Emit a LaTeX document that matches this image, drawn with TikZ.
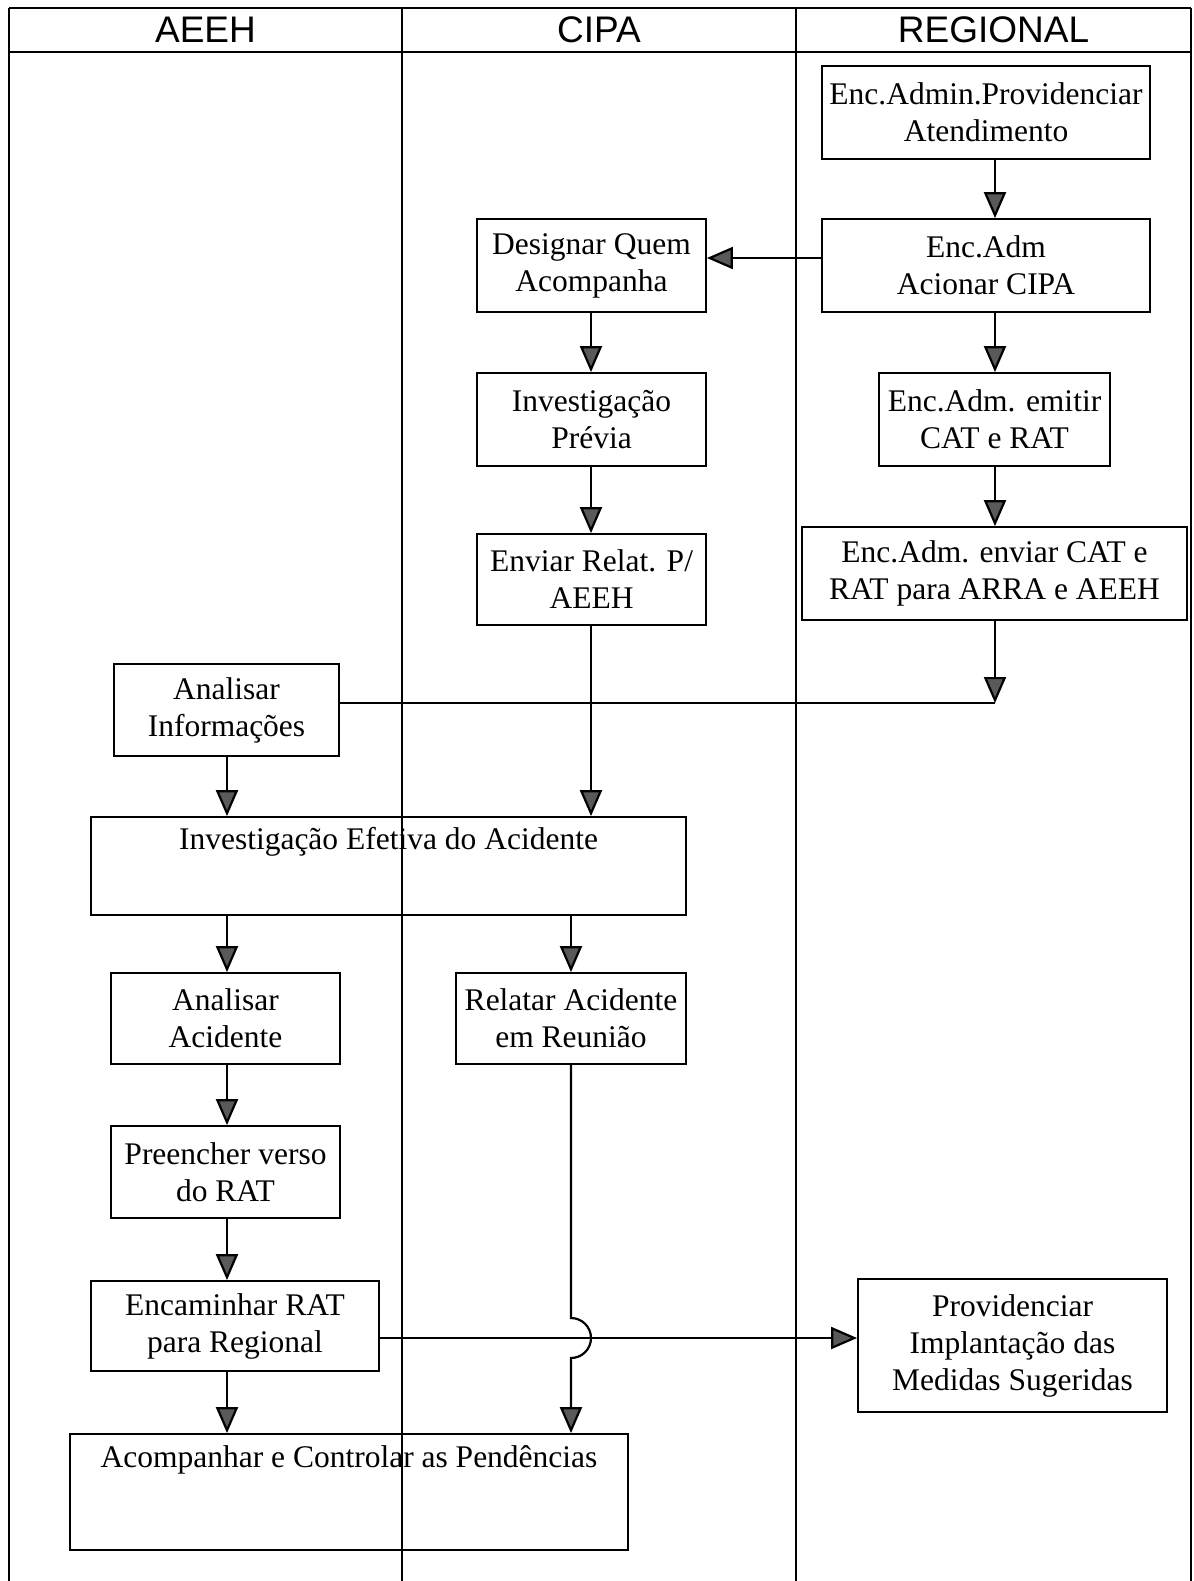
\documentclass[tikz,border=0pt]{standalone}
\usepackage{fontspec}
\setmainfont{Liberation Serif}
\newfontfamily\headfont{Liberation Sans}
\usetikzlibrary{arrows.meta}

\begin{document}
\begin{tikzpicture}[x=0.5pt,y=-0.5pt,
  box/.style={draw, line width=0.9pt, align=center, inner sep=0pt,
    font=\fontsize{15.75}{18.5}\selectfont},
  txt/.style={align=center, inner sep=0pt, font=\fontsize{15.75}{18.5}\selectfont},
  lane/.style={line width=0.8pt},
  flow/.style={line width=1.1pt, -{Triangle[length=13pt,width=11pt,fill=black!65]}},
  plain/.style={line width=1.1pt},
  head/.style={font=\headfont\fontsize{18.5}{20}\selectfont}]

\useasboundingbox (0,0) rectangle (1194,1581);

% swimlane frame
\draw[lane] (9,8) -- (1191,8);
\draw[lane] (9,52) -- (1191,52);
\draw[lane] (9,8) -- (9,1581);
\draw[lane] (402,8) -- (402,1581);
\draw[lane] (796,8) -- (796,1581);
\draw[lane] (1191,8) -- (1191,1581);

\node[head] (hA) at (205.5,30) {AEEH};
\node[head] (hC) at (599,30) {CIPA};
\node[head] (hR) at (993.5,30) {REGIONAL};

% process boxes
\node[box, minimum width=164pt, minimum height=46.5pt] (n1) at (986,112.5) {Enc.Admin.Providenciar\\Atendimento};
\node[box, minimum width=164pt, minimum height=46.5pt] (n2) at (986,265.5) {Enc.Adm\\Acionar CIPA};
\node[box, minimum width=114.5pt, minimum height=46.5pt] (n3) at (591.5,265.5) {Designar Quem\\Acompanha};
\node[box, minimum width=114.5pt, minimum height=46.5pt] (n4) at (591.5,419.5) {Investigação\\Prévia};
\node[box, minimum width=115.5pt, minimum height=46.5pt] (n5) at (994.5,419.5) {Enc.Adm. emitir\\CAT e RAT};
\node[box, minimum width=114.5pt, minimum height=45.5pt] (n6) at (591.5,579.5) {Enviar Relat. P/\\AEEH};
\node[box, minimum width=192.5pt, minimum height=46.5pt] (n7) at (994.5,573.5) {Enc.Adm. enviar CAT e\\RAT para ARRA e AEEH};
\node[box, minimum width=112.5pt, minimum height=46pt] (n8) at (226.5,710) {Analisar\\Informações};
\node[box, minimum width=297.5pt, minimum height=49pt] (n9) at (388.5,866) {};
\node[txt] (t9) at (388.5,842) {Investigação Efetiva do Acidente};
\node[box, minimum width=114.5pt, minimum height=45.5pt] (n10) at (225.5,1018.5) {Analisar\\Acidente};
\node[box, minimum width=115pt, minimum height=45.5pt] (n11) at (571,1018.5) {Relatar Acidente\\em Reunião};
\node[box, minimum width=114.5pt, minimum height=46pt] (n12) at (225.5,1172) {Preencher verso\\do RAT};
\node[box, minimum width=144pt, minimum height=45pt] (n13) at (235,1326) {Encaminhar RAT\\para Regional};
\node[box, minimum width=154.5pt, minimum height=66.5pt] (n14) at (1012.5,1345.5) {Providenciar\\Implantação das\\Medidas Sugeridas};
\node[box, minimum width=279pt, minimum height=58pt] (n15) at (349,1492) {};
\node[txt] (t15) at (349,1460) {Acompanhar e Controlar as Pendências};

% connector guides
\coordinate (cR) at (995,0);
\coordinate (cC) at (591,0);
\coordinate (cA) at (227,0);
\coordinate (cD) at (571,0);
\coordinate (r23) at (0,258);
\coordinate (r1314) at (0,1338);
\coordinate (j7) at (995,703);
\coordinate (hopTop) at (571,1318);

% connectors
\draw[flow] (n1.south -| cR) -- (n2.north -| cR);
\draw[flow] (n2.west |- r23) -- (n3.east |- r23);
\draw[flow] (n3.south -| cC) -- (n4.north -| cC);
\draw[flow] (n2.south -| cR) -- (n5.north -| cR);
\draw[flow] (n4.south -| cC) -- (n6.north -| cC);
\draw[flow] (n5.south -| cR) -- (n7.north -| cR);
\draw[flow] (n7.south -| cR) -- (j7);
\draw[plain] (n8.east |- j7) -- (j7);
\draw[flow] (n6.south -| cC) -- (n9.north -| cC);
\draw[flow] (n8.south -| cA) -- (n9.north -| cA);
\draw[flow] (n9.south -| cA) -- (n10.north -| cA);
\draw[flow] (n9.south -| cD) -- (n11.north -| cD);
\draw[flow] (n10.south -| cA) -- (n12.north -| cA);
\draw[flow] (n12.south -| cA) -- (n13.north -| cA);
\draw[flow] (n13.south -| cA) -- (n15.north -| cA);
\draw[flow] (n13.east |- r1314) -- (n14.west |- r1314);
\draw[flow] (n11.south -| cD) -- (hopTop) arc[start angle=90, end angle=-90, radius=10pt] -- (n15.north -| cD);

\end{tikzpicture}
\end{document}
